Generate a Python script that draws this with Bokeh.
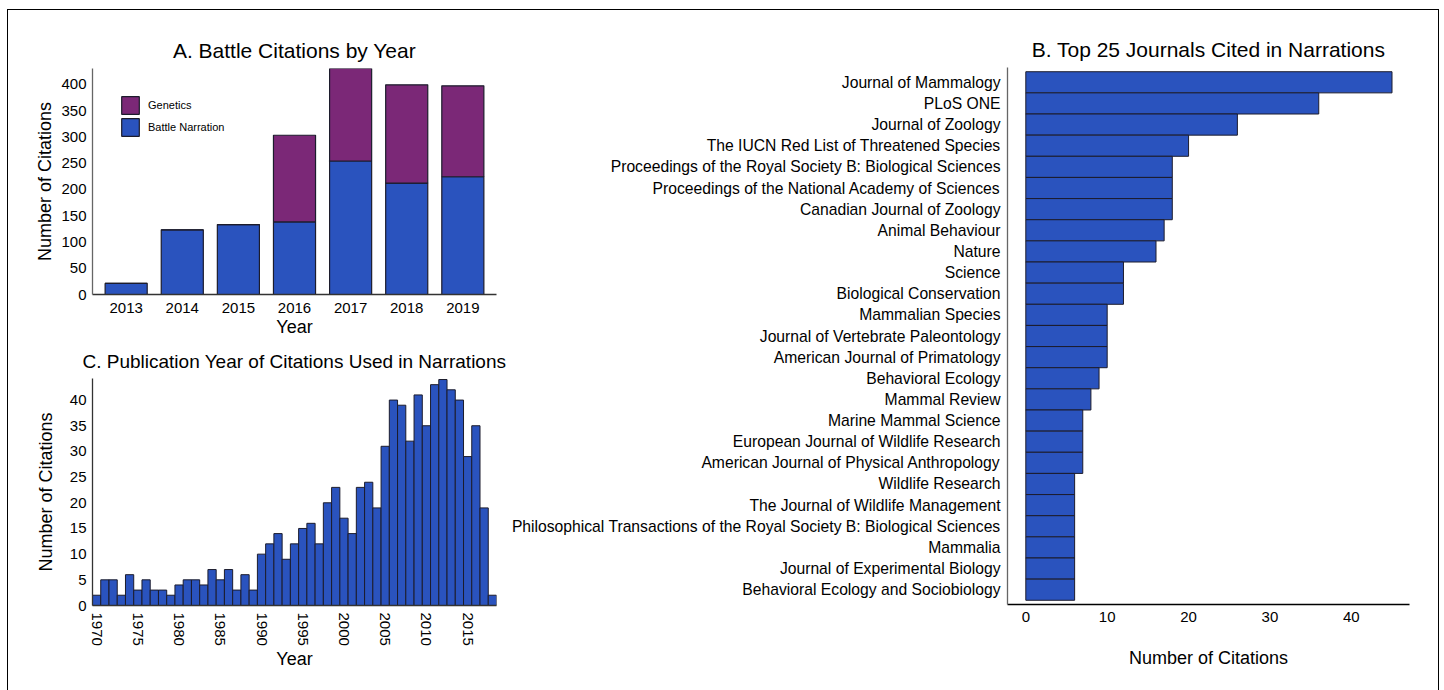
from bokeh.plotting import figure
from bokeh.models import Range1d, FixedTicker, FactorRange, Legend, LegendItem
from bokeh.layouts import row, column
from bokeh.embed import file_html
from bokeh.resources import INLINE

# ---------------- data ----------------
battle_years = [2013, 2014, 2015, 2016, 2017, 2018, 2019]
battle_narration = [21, 123, 133, 138, 254, 212, 224]
genetics = [0, 0, 0, 165, 176, 187, 173]

pub_years = list(range(1970, 2019))
pub_counts = [2, 5, 5, 2, 6, 3, 5, 3, 3, 2,
              4, 5, 5, 4, 7, 5, 7, 3, 6, 3,
              10, 12, 14, 9, 12, 15, 16, 12, 20, 23,
              17, 14, 23, 24, 19, 31, 40, 39, 32, 41,
              35, 43, 44, 42, 40, 29, 35, 19, 2]

journals = [
    "Journal of Mammalogy",
    "PLoS ONE",
    "Journal of Zoology",
    "The IUCN Red List of Threatened Species",
    "Proceedings of the Royal Society B: Biological Sciences",
    "Proceedings of the National Academy of Sciences",
    "Canadian Journal of Zoology",
    "Animal Behaviour",
    "Nature",
    "Science",
    "Biological Conservation",
    "Mammalian Species",
    "Journal of Vertebrate Paleontology",
    "American Journal of Primatology",
    "Behavioral Ecology",
    "Mammal Review",
    "Marine Mammal Science",
    "European Journal of Wildlife Research",
    "American Journal of Physical Anthropology",
    "Wildlife Research",
    "The Journal of Wildlife Management",
    "Philosophical Transactions of the Royal Society B: Biological Sciences",
    "Mammalia",
    "Journal of Experimental Biology",
    "Behavioral Ecology and Sociobiology",
]
journal_counts = [45, 36, 26, 20, 18, 18, 18, 17, 16, 12, 12, 10, 10, 10, 9, 8, 7, 7, 7, 6, 6, 6, 6, 6, 6]

# ---------------- style ----------------
BLUE = "#2A53BE"
PURPLE = "#7B2877"
OUTLINE = "#1c1c2c"
FONT = "Liberation Sans"


def style(p, title_size="21px"):
    p.xgrid.visible = False
    p.ygrid.visible = False
    p.outline_line_color = None
    p.title.text_font = FONT
    p.title.text_font_size = title_size
    p.title.text_font_style = "normal"
    p.title.text_color = "black"
    p.title.align = "center"
    p.title.standoff = 13
    for ax in p.axis:
        ax.major_tick_line_color = None
        ax.minor_tick_line_color = None
        ax.major_tick_out = 0
        ax.major_tick_in = 0
        ax.minor_tick_out = 0
        ax.minor_tick_in = 0
        ax.major_label_text_font = FONT
        ax.major_label_text_font_size = "15px"
        ax.major_label_text_color = "black"
        ax.axis_label_text_font = FONT
        ax.axis_label_text_font_size = "18px"
        ax.axis_label_text_font_style = "normal"
        ax.axis_label_text_color = "black"
        ax.axis_line_color = "#333333"
        ax.axis_line_width = 1.3


# ---------------- A ----------------
pA = figure(width=500, height=330, output_backend="svg", toolbar_location=None,
            title="A. Battle Citations by Year",
            x_range=Range1d(2012.4, 2019.6), y_range=Range1d(0, 430),
            min_border_left=84, min_border_right=12, min_border_top=58, min_border_bottom=46)
totals = [n + g for n, g in zip(battle_narration, genetics)]
r_nar = pA.vbar(x=battle_years, bottom=0, top=battle_narration, width=0.75,
                fill_color=BLUE, line_color=OUTLINE, line_width=1.2)
r_gen = pA.vbar(x=battle_years, bottom=battle_narration, top=totals, width=0.75,
                fill_color=PURPLE, line_color=OUTLINE, line_width=1.2)
style(pA)
pA.xaxis.ticker = FixedTicker(ticks=battle_years)
pA.yaxis.ticker = FixedTicker(ticks=list(range(0, 401, 50)))
pA.xaxis.axis_label = "Year"
pA.yaxis.axis_label = "Number of Citations"
pA.xaxis.major_label_standoff = 8
pA.xaxis.axis_label_standoff = 1
pA.yaxis.major_label_standoff = 6
pA.yaxis.axis_label_standoff = 3
pA.yaxis.axis_line_color = "#666666"
legend = Legend(items=[LegendItem(label="Genetics", renderers=[r_gen]),
                       LegendItem(label="Battle Narration", renderers=[r_nar])],
                location=(27, 156), padding=0, margin=0, spacing=0,
                glyph_width=22, glyph_height=22, label_height=22, label_standoff=7,
                label_text_font=FONT, label_text_font_size="11px", label_text_color="black",
                border_line_color=None, background_fill_alpha=0)
pA.add_layout(legend)

# ---------------- C ----------------
pC = figure(width=500, height=350, output_backend="svg", toolbar_location=None,
            title="C. Publication Year of Citations Used in Narrations",
            x_range=Range1d(1969.5, 2018.5), y_range=Range1d(0, 44.2),
            min_border_left=84, min_border_right=12, min_border_top=38, min_border_bottom=85)
pC.vbar(x=pub_years, bottom=0, top=pub_counts, width=1,
        fill_color=BLUE, line_color=OUTLINE, line_width=1)
style(pC, title_size="19px")
pC.title.align = "left"
pC.title.offset = -10
pC.xaxis.ticker = FixedTicker(ticks=list(range(1970, 2016, 5)))
pC.yaxis.ticker = FixedTicker(ticks=list(range(0, 41, 5)))
pC.xaxis.major_label_orientation = "vertical"
pC.xaxis.axis_label = "Year"
pC.yaxis.axis_label = "Number of Citations"
pC.xaxis.major_label_standoff = 7
pC.xaxis.axis_label_standoff = 0
pC.yaxis.major_label_standoff = 6
pC.yaxis.axis_label_standoff = 11

# ---------------- B ----------------
pB = figure(width=930, height=680, output_backend="svg", toolbar_location=None,
            title="B. Top 25 Journals Cited in Narrations",
            x_range=Range1d(-2.25, 47.15),
            y_range=FactorRange(factors=journals[::-1], range_padding=0.2,
                                range_padding_units="absolute"),
            min_border_left=499, min_border_right=29, min_border_top=57, min_border_bottom=86)
pB.hbar(y=journals, left=0, right=journal_counts, height=1,
        fill_color=BLUE, line_color=OUTLINE, line_width=1)
style(pB)
pB.xaxis.ticker = FixedTicker(ticks=[0, 10, 20, 30, 40])
pB.xaxis.axis_label = "Number of Citations"
pB.xaxis.major_label_standoff = 7
pB.xaxis.axis_label_standoff = 23
pB.xaxis.axis_line_color = "black"
pB.yaxis.major_label_text_font_size = "15.7px"
pB.yaxis.major_label_standoff = 7
pB.yaxis.axis_line_color = "#666666"

layout = row(column(pA, pC), pB, margin=(9, 0, 0, 7),
             styles={"border-top": "1px solid black", "border-left": "1px solid black",
                     "border-right": "1px solid black"})

open("out.html", "w").write(file_html(layout, INLINE))
